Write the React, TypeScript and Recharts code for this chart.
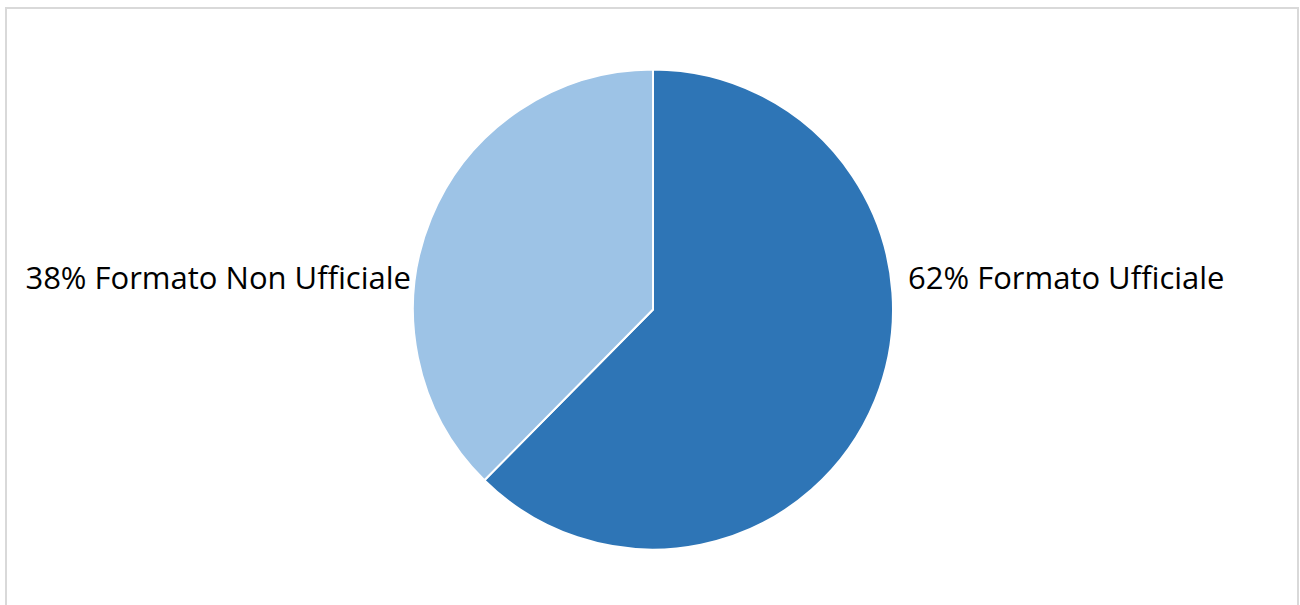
import { PieChart, Pie, Cell } from "recharts";

const categories = ["Formato Ufficiale", "Formato Non Ufficiale"];
const shares = [62.4, 37.6];
const colors = ["#2E75B6", "#9DC3E6"];

const data = categories.map((name, i) => ({ name, value: shares[i] }));

const RADIAN = Math.PI / 180;

function renderLabel(props: any) {
  const { cx, cy, midAngle, outerRadius, percent, name } = props;
  const right = Math.cos(-midAngle * RADIAN) >= 0;
  const x = right ? cx + outerRadius + 15 : cx - outerRadius - 2;
  return (
    <text
      x={x}
      y={cy - 21}
      textAnchor={right ? "start" : "end"}
      fill="#000000"
      fontSize={31}
      fontFamily="'Open Sans', sans-serif"
    >
      {`${Math.round(percent * 100)}% ${name}`}
    </text>
  );
}

export default function App() {
  return (
    <div
      style={{
        position: "absolute",
        left: 0,
        top: 0,
        width: 1300,
        height: 605,
        overflow: "hidden",
        background: "#ffffff",
      }}
    >
      <div
        style={{
          position: "absolute",
          left: 5,
          top: 7,
          width: 1290,
          height: 640,
          border: "2px solid #D9D9D9",
        }}
      />
      <div style={{ position: "absolute", left: 0, top: 0 }}>
        <PieChart
          width={1300}
          height={605}
          margin={{ top: 0, right: 0, bottom: 0, left: 0 }}
        >
          <Pie
            data={data}
            dataKey="value"
            nameKey="name"
            cx={653}
            cy={309.5}
            outerRadius={240}
            startAngle={90}
            endAngle={-270}
            stroke="#ffffff"
            strokeWidth={2}
            label={renderLabel}
            labelLine={false}
            isAnimationActive={false}
          >
            {data.map((d, i) => (
              <Cell key={d.name} fill={colors[i]} />
            ))}
          </Pie>
        </PieChart>
      </div>
    </div>
  );
}
